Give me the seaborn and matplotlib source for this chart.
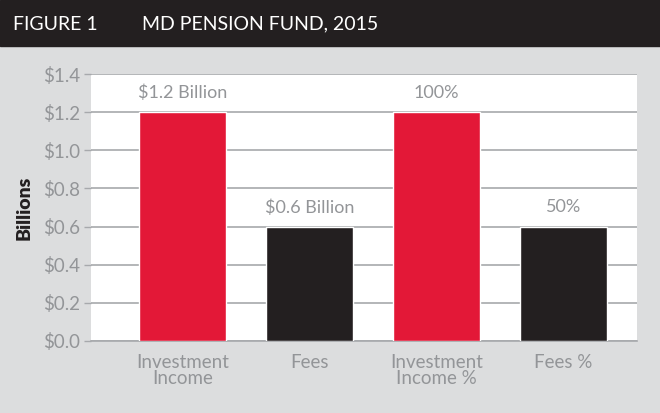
import numpy as np
import pandas as pd
import seaborn as sns
import matplotlib.pyplot as plt
from matplotlib.patches import Rectangle
from matplotlib.ticker import FuncFormatter

categories = ['Investment\nIncome', 'Fees', 'Investment\nIncome %', 'Fees %']
values = [1.2, 0.6, 1.2, 0.6]
bar_labels = [r'\$1.2 Billion', r'\$0.6 Billion', '100%', '50%']
bar_colors = ['#E31837', '#231F20', '#E31837', '#231F20']
y_ticks = [0.0, 0.2, 0.4, 0.6, 0.8, 1.0, 1.2, 1.4]

sns.set_style('white')
plt.rcParams['font.family'] = ['Lato', 'DejaVu Sans']

bg = '#DCDDDE'
grey_txt = '#939598'
grid_col = '#A7A9AC'

df = pd.DataFrame({'category': categories, 'value': values})

fig = plt.figure(figsize=(6.6, 4.13), dpi=100, facecolor=bg)
ax = fig.add_axes([91/660, 1 - 341/413, (637-91)/660, (341-74)/413])
ax.set_facecolor('white')

# header band
fig.patches.append(Rectangle((0, 1 - 46/413), 1, 46/413, transform=fig.transFigure,
                             color='#231F20', zorder=0))
fig.text(13/660, 1 - 24/413, 'FIGURE 1', color='white', fontsize=14, va='center', ha='left')
fig.text(142/660, 1 - 24/413, 'MD PENSION FUND, 2015', color='white', fontsize=14,
         va='center', ha='left')

sns.barplot(data=df, x='category', y='value', hue='category', palette=bar_colors,
            width=0.69, saturation=1, legend=False, ax=ax, zorder=3)

for i, (v, lab) in enumerate(zip(values, bar_labels)):
    ax.text(i, v + 0.1, lab, ha='center', va='center', fontsize=13, color=grey_txt)

ax.set_xlim(-0.72, 3.58)
ax.set_ylim(0, 1.4)
ax.set_yticks(y_ticks)
ax.yaxis.set_major_formatter(FuncFormatter(lambda v, p: r'\$%.1f' % v))
ax.yaxis.grid(True, color=grid_col, linewidth=1.2, zorder=0)
ax.set_axisbelow(True)

for s in ['top', 'right', 'left']:
    ax.spines[s].set_visible(False)
ax.spines['bottom'].set_color(grid_col)
ax.spines['bottom'].set_linewidth(1.2)

ax.tick_params(axis='y', colors=grey_txt, labelsize=13.5, length=5, width=1, pad=3,
               left=True, color=grid_col)
ax.tick_params(axis='x', colors=grey_txt, labelsize=13.5, length=0, pad=9)
for t in ax.get_xticklabels():
    t.set_linespacing(1.0)

ax.set_xlabel('')
ax.set_ylabel('Billions', fontsize=14, fontweight='heavy', color='#231F20', labelpad=7)

fig.savefig('out.png', dpi=100, facecolor=bg)
